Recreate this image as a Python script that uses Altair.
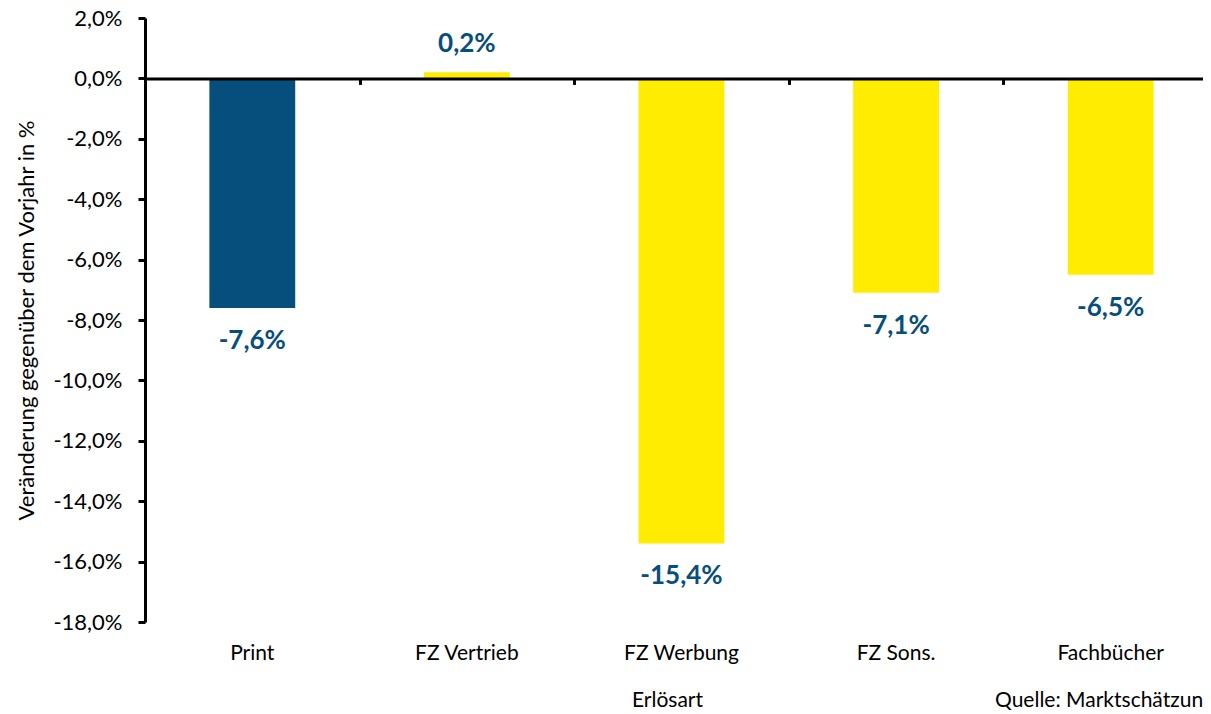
import altair as alt
import pandas as pd

categories = ["Print", "FZ Vertrieb", "FZ Werbung", "FZ Sons.", "Fachbücher"]
changes = [-7.6, 0.2, -15.4, -7.1, -6.5]
y_ticks = [2, 0, -2, -4, -6, -8, -10, -12, -14, -16, -18]
source_note = ["Quelle: Marktschätzung"]

BLUE = "#064F7C"
YELLOW = "#FFEC00"
FONT = "Lato"

df = pd.DataFrame({"cat": categories, "val": changes})
note_df = pd.DataFrame({"t": source_note})

x_scale = alt.Scale(domain=categories, range=[0, 1073], paddingInner=0.6, paddingOuter=0.3)
y_scale = alt.Scale(domain=[-18, 2], nice=False)

fmt = "replace(replace(format({v}, '.1f'), '.', ','), '\u2212', '-') + '%'"

base = alt.Chart(df)

bars = base.mark_bar().encode(
    x=alt.X("cat:N", scale=x_scale, sort=categories,
            axis=alt.Axis(orient="bottom", domain=False, ticks=False, tickSize=0,
                          labelFont=FONT, labelFontSize=21, labelColor="black",
                          labelPadding=20, labelAngle=0,
                          title="Erlösart", titleFont=FONT, titleFontSize=21,
                          titleFontWeight="normal", titleColor="black",
                          titlePadding=26, titleX=522)),
    y=alt.Y("val:Q", scale=y_scale,
            axis=alt.Axis(values=y_ticks, labelExpr=fmt.format(v="datum.value"),
                          labelFont=FONT, labelFontSize=22, labelColor="black",
                          labelPadding=16, tickSize=7, tickWidth=3, tickColor="black",
                          domainColor="black", domainWidth=3, grid=False,
                          title="Veränderung gegenüber dem Vorjahr in %",
                          titleFont=FONT, titleFontSize=22, titleFontWeight="normal",
                          titleColor="black", titlePadding=14, zindex=1)),
    y2=alt.datum(0),
    color=alt.Color("cat:N", scale=alt.Scale(domain=categories,
                                             range=[BLUE, YELLOW, YELLOW, YELLOW, YELLOW]),
                    legend=None),
)

zero_axis = base.mark_rule(opacity=0).encode(
    x=alt.X("cat:N", scale=x_scale, sort=categories,
            axis=alt.Axis(orient="bottom", offset=-543.6, labels=False, title=None,
                          domain=True, domainColor="black", domainWidth=3,
                          ticks=True, tickColor="black", tickWidth=3, tickSize=6,
                          tickOffset=-107.3, zindex=1)),
    y=alt.Y("val:Q", scale=y_scale, axis=None),
)

label_calc = fmt.format(v="datum.val")

neg_text = base.transform_filter("datum.val < 0").transform_calculate(
    label=label_calc
).mark_text(font=FONT, fontWeight="bold", fontSize=26, color=BLUE,
            baseline="middle", dy=33).encode(
    x=alt.X("cat:N", scale=x_scale, sort=categories, axis=None),
    y=alt.Y("val:Q", scale=y_scale, axis=None),
    text="label:N",
)

pos_text = base.transform_filter("datum.val >= 0").transform_calculate(
    label=label_calc
).mark_text(font=FONT, fontWeight="bold", fontSize=26, color=BLUE,
            baseline="middle", dy=-28).encode(
    x=alt.X("cat:N", scale=x_scale, sort=categories, axis=None),
    y=alt.Y("val:Q", scale=y_scale, axis=None),
    text="label:N",
)

note = alt.Chart(note_df).mark_text(
    font=FONT, fontSize=21, color="black", align="left", baseline="alphabetic"
).encode(x=alt.value(850), y=alt.value(689), text="t:N")

chart = alt.layer(bars, zero_axis, neg_text, pos_text, note).resolve_axis(
    x="independent", y="independent"
).properties(
    width=1058, height=604,
    autosize=alt.AutoSizeParams(type="none"),
    padding={"left": 137, "top": 10, "right": 0, "bottom": 90},
).configure_view(stroke=None)

chart.save("out.html", embed_options={"renderer": "svg", "actions": False})
